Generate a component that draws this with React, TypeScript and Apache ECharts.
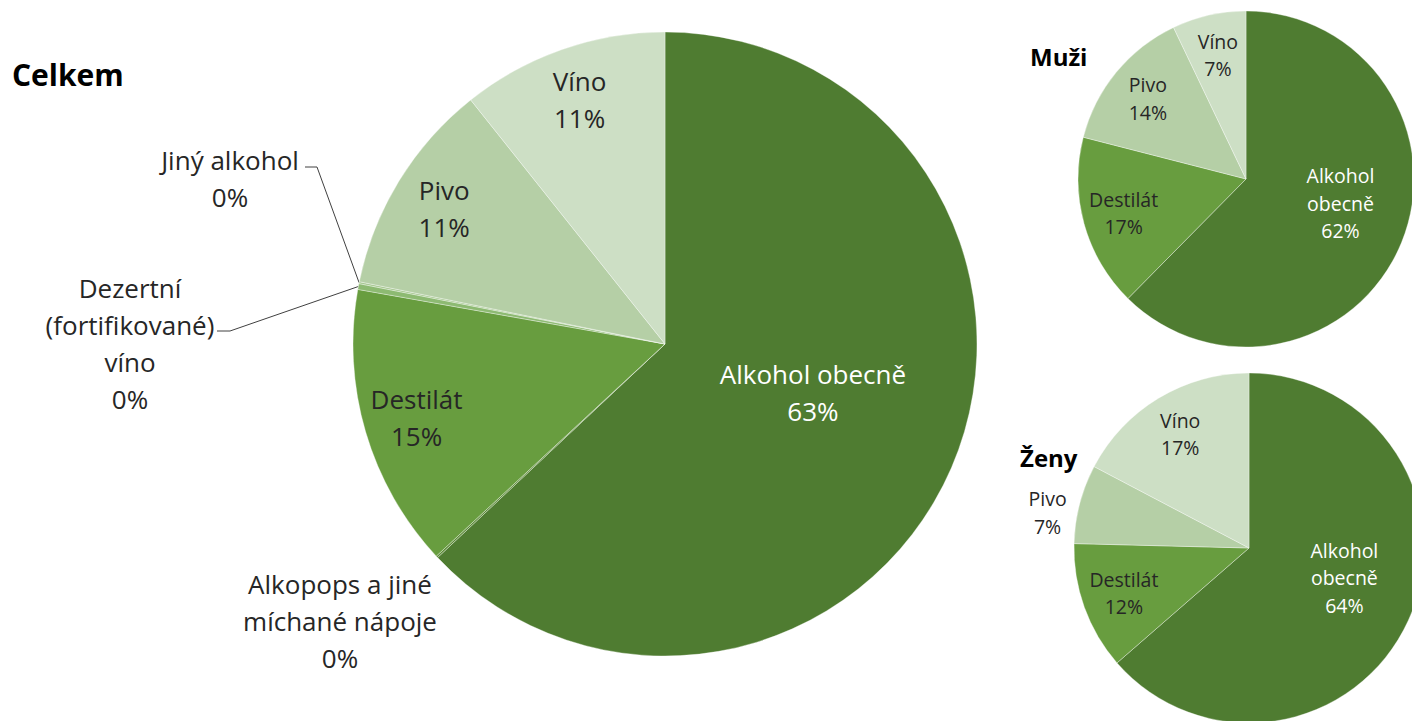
import React, { useEffect, useRef } from "react";
import * as echarts from "echarts";

// ---- data ----
const categories = [
  "Alkohol obecně",
  "Alkopops a jiné míchané nápoje",
  "Destilát",
  "Dezertní (fortifikované) víno",
  "Jiný alkohol",
  "Pivo",
  "Víno",
];
const celkemValues = [63.0, 0.1, 14.7, 0.3, 0.1, 11.1, 10.7];

const genderCategories = ["Alkohol obecně", "Destilát", "Pivo", "Víno"];
const muziValues = [62.4, 16.6, 13.9, 7.1];
const zenyValues = [63.6, 11.8, 7.3, 17.3];

const pieTitles = ["Celkem", "Muži", "Ženy"];

// ---- styles ----
const FONT = "'Open Sans', 'Noto Sans', sans-serif";
const colors: Record<string, string> = {
  "Alkohol obecně": "#4f7c31",
  "Alkopops a jiné míchané nápoje": "#5d8c38",
  "Destilát": "#689d3f",
  "Dezertní (fortifikované) víno": "#8dba72",
  "Jiný alkohol": "#a4c68e",
  "Pivo": "#b5cfa6",
  "Víno": "#cddfc5",
};
const mainLabelText: Record<string, string> = {
  "Alkopops a jiné míchané nápoje": "Alkopops a jiné\nmíchané nápoje",
  "Dezertní (fortifikované) víno": "Dezertní\n(fortifikované)\nvíno",
};
const smallLabelText: Record<string, string> = {
  "Alkohol obecně": "Alkohol\nobecně",
};

type Placement = { dx?: number; dy?: number; x?: number; y?: number; line?: number[][] };

const celkemPlacement: Record<string, Placement> = {
  "Alkohol obecně": { dx: 2, dy: -15 },
  "Alkopops a jiné míchané nápoje": { x: 340, y: 621 },
  "Dezertní (fortifikované) víno": { x: 130, y: 343, line: [[230, 331], [217, 331]] },
  "Jiný alkohol": { x: 230, y: 178, line: [[317, 167], [305, 167]] },
};
const muziPlacement: Record<string, Placement> = {
  "Alkohol obecně": { dx: 14, dy: -9 },
};
const zenyPlacement: Record<string, Placement> = {
  "Alkohol obecně": { dx: 13, dy: -8 },
  "Pivo": { dx: -3, dy: 16 },
};

const MAIN = { center: [665, 344], r: 312 };
const MUZI = { center: [1246, 179], r: 168 };
const ZENY = { center: [1249, 548], r: 175 };

const MAIN_FONT = 26;
const MAIN_LH = 37;
const SMALL_FONT = 19.5;
const SMALL_LH = 27.5;

function makeFormatter(textMap: Record<string, string>) {
  return (p: any) => `${textMap[p.name] ?? p.name}\n${Math.round(p.percent)}%`;
}

function makeLayout(names: string[], placement: Record<string, Placement>) {
  return (p: any) => {
    const pl = placement[names[p.dataIndex]];
    if (!pl) return {};
    if (pl.x !== undefined) {
      const res: any = { x: pl.x, y: pl.y, align: "center", verticalAlign: "middle" };
      if (pl.line && p.labelLinePoints && p.labelLinePoints[0]) {
        res.labelLinePoints = [p.labelLinePoints[0], ...pl.line];
      }
      return res;
    }
    return { dx: pl.dx ?? 0, dy: pl.dy ?? 0 };
  };
}

function pie(opts: {
  id: string;
  names: string[];
  values: number[];
  center: number[];
  radius: number[];
  transparent: boolean;
  labelled: Record<string, { position: string; color: string; line?: boolean }>;
  fontSize: number;
  lineHeight: number;
  textMap: Record<string, string>;
  placement: Record<string, Placement>;
  z: number;
}) {
  return {
    type: "pie",
    id: opts.id,
    center: opts.center,
    radius: opts.radius,
    startAngle: 90,
    clockwise: true,
    avoidLabelOverlap: false,
    silent: true,
    z: opts.z,
    emphasis: { disabled: true },
    itemStyle: opts.transparent
      ? { color: "rgba(0,0,0,0)", borderWidth: 0 }
      : { borderColor: "rgba(255,255,255,0.35)", borderWidth: 1 },
    label: {
      show: false,
      formatter: makeFormatter(opts.textMap),
      fontFamily: FONT,
      fontSize: opts.fontSize,
      lineHeight: opts.lineHeight,
      color: "#262626",
      align: "center",
    },
    labelLine: { show: false, length: 10, length2: 10, lineStyle: { color: "#404040", width: 1 } },
    labelLayout: makeLayout(opts.names, opts.placement),
    data: opts.names.map((n, i) => {
      const lab = opts.labelled[n];
      const item: any = {
        name: n,
        value: opts.values[i],
      };
      if (!opts.transparent) item.itemStyle = { color: colors[n] };
      if (lab) {
        item.label = { show: true, position: lab.position, color: lab.color };
        item.labelLine = { show: !!lab.line };
      }
      return item;
    }),
  };
}

export default function App() {
  const ref = useRef<HTMLDivElement>(null);
  useEffect(() => {
    document.body.style.margin = "0";
    if (!ref.current) return;
    const chart = echarts.init(ref.current, undefined, { renderer: "svg" });
    const W = "#ffffff";
    const D = "#262626";
    const series = [
      pie({
        id: "celkem",
        names: categories,
        values: celkemValues,
        center: MAIN.center,
        radius: [0, MAIN.r],
        transparent: false,
        labelled: {
          "Alkohol obecně": { position: "inside", color: W },
          "Alkopops a jiné míchané nápoje": { position: "outside", color: D },
          "Dezertní (fortifikované) víno": { position: "outside", color: D, line: true },
          "Jiný alkohol": { position: "outside", color: D, line: true },
        },
        fontSize: MAIN_FONT,
        lineHeight: MAIN_LH,
        textMap: mainLabelText,
        placement: celkemPlacement,
        z: 2,
      }),
      pie({
        id: "celkem-ring",
        names: categories,
        values: celkemValues,
        center: MAIN.center,
        radius: [200, MAIN.r],
        transparent: true,
        labelled: {
          "Destilát": { position: "inside", color: D },
          "Pivo": { position: "inside", color: D },
          "Víno": { position: "inside", color: D },
        },
        fontSize: MAIN_FONT,
        lineHeight: MAIN_LH,
        textMap: mainLabelText,
        placement: {},
        z: 3,
      }),
      pie({
        id: "muzi",
        names: genderCategories,
        values: muziValues,
        center: MUZI.center,
        radius: [0, MUZI.r],
        transparent: false,
        labelled: { "Alkohol obecně": { position: "inside", color: W } },
        fontSize: SMALL_FONT,
        lineHeight: SMALL_LH,
        textMap: smallLabelText,
        placement: muziPlacement,
        z: 2,
      }),
      pie({
        id: "muzi-ring",
        names: genderCategories,
        values: muziValues,
        center: MUZI.center,
        radius: [80, MUZI.r],
        transparent: true,
        labelled: {
          "Destilát": { position: "inside", color: D },
          "Pivo": { position: "inside", color: D },
          "Víno": { position: "inside", color: D },
        },
        fontSize: SMALL_FONT,
        lineHeight: SMALL_LH,
        textMap: smallLabelText,
        placement: {},
        z: 3,
      }),
      pie({
        id: "zeny",
        names: genderCategories,
        values: zenyValues,
        center: ZENY.center,
        radius: [0, ZENY.r],
        transparent: false,
        labelled: { "Alkohol obecně": { position: "inside", color: W } },
        fontSize: SMALL_FONT,
        lineHeight: SMALL_LH,
        textMap: smallLabelText,
        placement: zenyPlacement,
        z: 2,
      }),
      pie({
        id: "zeny-ring",
        names: genderCategories,
        values: zenyValues,
        center: ZENY.center,
        radius: [85, ZENY.r],
        transparent: true,
        labelled: {
          "Destilát": { position: "inside", color: D },
          "Víno": { position: "inside", color: D },
        },
        fontSize: SMALL_FONT,
        lineHeight: SMALL_LH,
        textMap: smallLabelText,
        placement: {},
        z: 3,
      }),
      pie({
        id: "zeny-outer",
        names: genderCategories,
        values: zenyValues,
        center: ZENY.center,
        radius: [ZENY.r, ZENY.r + 54],
        transparent: true,
        labelled: { "Pivo": { position: "inside", color: D } },
        fontSize: SMALL_FONT,
        lineHeight: SMALL_LH,
        textMap: smallLabelText,
        placement: zenyPlacement,
        z: 3,
      }),
    ];

    const titlePos = [
      { x: 12, y: 74, size: 30 },
      { x: 1030, y: 56, size: 24 },
      { x: 1020, y: 457, size: 24 },
    ];

    chart.setOption({
      animation: false,
      backgroundColor: "#ffffff",
      graphic: pieTitles.map((t, i) => ({
        type: "text",
        x: titlePos[i].x,
        y: titlePos[i].y,
        z: 10,
        style: {
          text: t,
          fontFamily: FONT,
          fontWeight: "bold",
          fontSize: titlePos[i].size,
          fill: "#000000",
          verticalAlign: "middle",
          align: "left",
        },
      })),
      series,
    });
    return () => chart.dispose();
  }, []);
  return <div ref={ref} style={{ width: 1412, height: 721 }} />;
}
